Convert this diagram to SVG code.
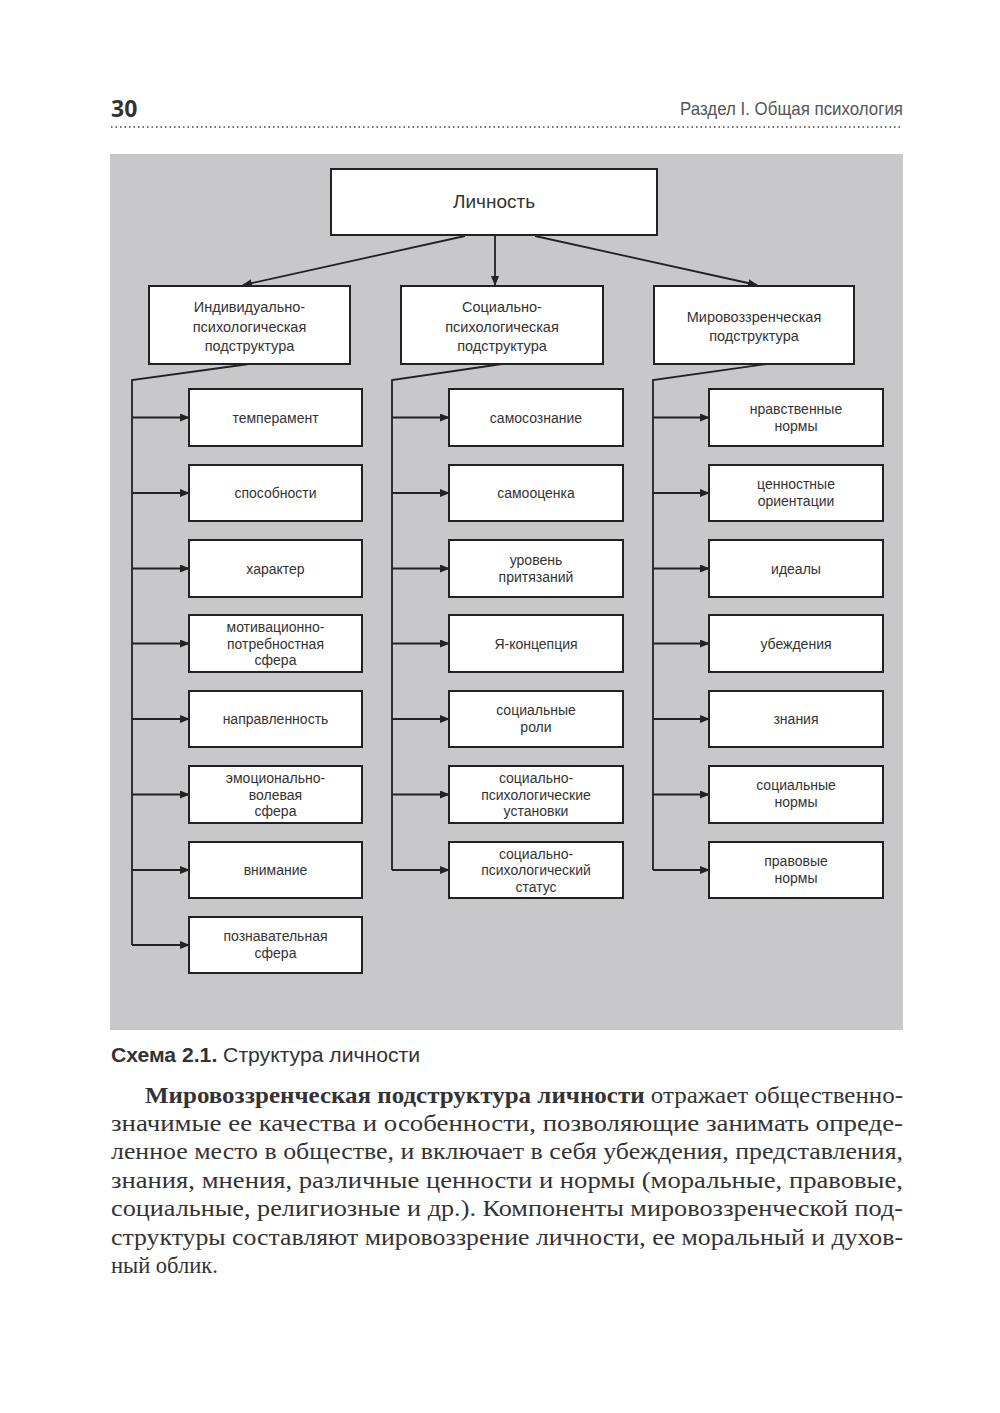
<svg xmlns="http://www.w3.org/2000/svg" width="1000" height="1413" viewBox="0 0 1000 1413">
<style>
.box{fill:#fff;stroke:#222;stroke-width:2}
.ln{fill:none;stroke:#222;stroke-width:1.8}
.t{font-family:"Liberation Sans",Arial,sans-serif;font-size:14px;fill:#333;text-anchor:middle}
.t2{font-family:"Liberation Sans",Arial,sans-serif;font-size:14.5px;fill:#333;text-anchor:middle}
.big{font-family:"Liberation Sans",Arial,sans-serif;font-size:19px;fill:#333;text-anchor:middle}
.p{font-family:"Liberation Serif","Times New Roman",serif;font-size:22.5px;fill:#333}
</style>
<defs>
<marker id="ah" markerWidth="10" markerHeight="8" refX="9" refY="4" orient="auto" markerUnits="userSpaceOnUse">
<path d="M0,0 L10,4 L0,8 Z" fill="#222"/>
</marker>
</defs>
<rect width="1000" height="1413" fill="#fff"/>
<g id="header">
<text x="111" y="117" font-family="'Open Sans','Liberation Sans',sans-serif" font-weight="bold" font-size="23" fill="#333">30</text>
<text x="903" y="115" text-anchor="end" font-family="'Liberation Sans',Arial,sans-serif" font-size="19" fill="#555" textLength="223" lengthAdjust="spacingAndGlyphs">Раздел I. Общая психология</text>
<line x1="111" y1="127" x2="903" y2="127" stroke="#444" stroke-width="1.5" stroke-dasharray="1.5 3"/>
</g>
<rect x="110" y="154" width="793" height="876" fill="#c8c8ca"/>
<g id="connectors">
<line class="ln" x1="465" y1="236" x2="243" y2="285" marker-end="url(#ah)"/>
<line class="ln" x1="495" y1="236" x2="495" y2="285" marker-end="url(#ah)"/>
<line class="ln" x1="535" y1="236" x2="757" y2="285" marker-end="url(#ah)"/>
<polyline class="ln" points="249,364 132,380 132,945"/>
<polyline class="ln" points="502,364 392,380 392,870"/>
<polyline class="ln" points="767,364 653,380 653,870"/>
<g id="arrows-left">
<line class="ln" x1="132" y1="417.5" x2="189" y2="417.5" marker-end="url(#ah)"/>
<line class="ln" x1="132" y1="493" x2="189" y2="493" marker-end="url(#ah)"/>
<line class="ln" x1="132" y1="568.5" x2="189" y2="568.5" marker-end="url(#ah)"/>
<line class="ln" x1="132" y1="643.5" x2="189" y2="643.5" marker-end="url(#ah)"/>
<line class="ln" x1="132" y1="719" x2="189" y2="719" marker-end="url(#ah)"/>
<line class="ln" x1="132" y1="794.5" x2="189" y2="794.5" marker-end="url(#ah)"/>
<line class="ln" x1="132" y1="870" x2="189" y2="870" marker-end="url(#ah)"/>
<line class="ln" x1="132" y1="945" x2="189" y2="945" marker-end="url(#ah)"/>
</g>
<g id="arrows-mid">
<line class="ln" x1="392" y1="417.5" x2="449" y2="417.5" marker-end="url(#ah)"/>
<line class="ln" x1="392" y1="493" x2="449" y2="493" marker-end="url(#ah)"/>
<line class="ln" x1="392" y1="568.5" x2="449" y2="568.5" marker-end="url(#ah)"/>
<line class="ln" x1="392" y1="643.5" x2="449" y2="643.5" marker-end="url(#ah)"/>
<line class="ln" x1="392" y1="719" x2="449" y2="719" marker-end="url(#ah)"/>
<line class="ln" x1="392" y1="794.5" x2="449" y2="794.5" marker-end="url(#ah)"/>
<line class="ln" x1="392" y1="870" x2="449" y2="870" marker-end="url(#ah)"/>
</g>
<g id="arrows-right">
<line class="ln" x1="653" y1="417.5" x2="709" y2="417.5" marker-end="url(#ah)"/>
<line class="ln" x1="653" y1="493" x2="709" y2="493" marker-end="url(#ah)"/>
<line class="ln" x1="653" y1="568.5" x2="709" y2="568.5" marker-end="url(#ah)"/>
<line class="ln" x1="653" y1="643.5" x2="709" y2="643.5" marker-end="url(#ah)"/>
<line class="ln" x1="653" y1="719" x2="709" y2="719" marker-end="url(#ah)"/>
<line class="ln" x1="653" y1="794.5" x2="709" y2="794.5" marker-end="url(#ah)"/>
<line class="ln" x1="653" y1="870" x2="709" y2="870" marker-end="url(#ah)"/>
</g>
</g>
<g id="lichnost"><rect class="box" x="331" y="169" width="326" height="66"/><text class="big" x="494" y="208">Личность</text></g>
<g id="ind"><rect class="box" x="149" y="286" width="201" height="78"/><text class="t2" x="249.5" y="312">Индивидуально-</text><text class="t2" x="249.5" y="332">психологическая</text><text class="t2" x="249.5" y="351">подструктура</text></g>
<g id="soc"><rect class="box" x="401" y="286" width="202" height="78"/><text class="t2" x="502" y="312">Социально-</text><text class="t2" x="502" y="332">психологическая</text><text class="t2" x="502" y="351">подструктура</text></g>
<g id="mir"><rect class="box" x="654" y="286" width="200" height="78"/><text class="t2" x="754" y="322">Мировоззренческая</text><text class="t2" x="754" y="341">подструктура</text></g>

<g id="l1"><rect class="box" x="189" y="389" width="173" height="57"/><text class="t" x="275.5" y="422.5">темперамент</text></g>
<g id="l2"><rect class="box" x="189" y="465" width="173" height="56"/><text class="t" x="275.5" y="498">способности</text></g>
<g id="l3"><rect class="box" x="189" y="540" width="173" height="57"/><text class="t" x="275.5" y="573.5">характер</text></g>
<g id="l4"><rect class="box" x="189" y="615" width="173" height="57"/><text class="t" x="275.5" y="632">мотивационно-</text><text class="t" x="275.5" y="648.5">потребностная</text><text class="t" x="275.5" y="665">сфера</text></g>
<g id="l5"><rect class="box" x="189" y="691" width="173" height="56"/><text class="t" x="275.5" y="724">направленность</text></g>
<g id="l6"><rect class="box" x="189" y="766" width="173" height="57"/><text class="t" x="275.5" y="783">эмоционально-</text><text class="t" x="275.5" y="799.5">волевая</text><text class="t" x="275.5" y="816">сфера</text></g>
<g id="l7"><rect class="box" x="189" y="842" width="173" height="56"/><text class="t" x="275.5" y="875">внимание</text></g>
<g id="l8"><rect class="box" x="189" y="917" width="173" height="56"/><text class="t" x="275.5" y="941">познавательная</text><text class="t" x="275.5" y="958">сфера</text></g>

<g id="m1"><rect class="box" x="449" y="389" width="174" height="57"/><text class="t" x="536" y="422.5">самосознание</text></g>
<g id="m2"><rect class="box" x="449" y="465" width="174" height="56"/><text class="t" x="536" y="498">самооценка</text></g>
<g id="m3"><rect class="box" x="449" y="540" width="174" height="57"/><text class="t" x="536" y="565">уровень</text><text class="t" x="536" y="582">притязаний</text></g>
<g id="m4"><rect class="box" x="449" y="615" width="174" height="57"/><text class="t" x="536" y="648.5">Я-концепция</text></g>
<g id="m5"><rect class="box" x="449" y="691" width="174" height="56"/><text class="t" x="536" y="715">социальные</text><text class="t" x="536" y="732">роли</text></g>
<g id="m6"><rect class="box" x="449" y="766" width="174" height="57"/><text class="t" x="536" y="783">социально-</text><text class="t" x="536" y="799.5">психологические</text><text class="t" x="536" y="816">установки</text></g>
<g id="m7"><rect class="box" x="449" y="842" width="174" height="56"/><text class="t" x="536" y="858.5">социально-</text><text class="t" x="536" y="875">психологический</text><text class="t" x="536" y="891.5">статус</text></g>

<g id="r1"><rect class="box" x="709" y="389" width="174" height="57"/><text class="t" x="796" y="414">нравственные</text><text class="t" x="796" y="431">нормы</text></g>
<g id="r2"><rect class="box" x="709" y="465" width="174" height="56"/><text class="t" x="796" y="489">ценностные</text><text class="t" x="796" y="506">ориентации</text></g>
<g id="r3"><rect class="box" x="709" y="540" width="174" height="57"/><text class="t" x="796" y="573.5">идеалы</text></g>
<g id="r4"><rect class="box" x="709" y="615" width="174" height="57"/><text class="t" x="796" y="648.5">убеждения</text></g>
<g id="r5"><rect class="box" x="709" y="691" width="174" height="56"/><text class="t" x="796" y="724">знания</text></g>
<g id="r6"><rect class="box" x="709" y="766" width="174" height="57"/><text class="t" x="796" y="790">социальные</text><text class="t" x="796" y="807">нормы</text></g>
<g id="r7"><rect class="box" x="709" y="842" width="174" height="56"/><text class="t" x="796" y="866">правовые</text><text class="t" x="796" y="883">нормы</text></g>

<g id="caption">
<text x="111" y="1062" font-family="'Liberation Sans',Arial,sans-serif" font-size="20" fill="#333" textLength="309" lengthAdjust="spacingAndGlyphs"><tspan font-weight="bold">Схема 2.1.</tspan> Структура личности</text>
</g>
<g id="paragraph">
<text class="p" x="145" y="1103" textLength="758" lengthAdjust="spacingAndGlyphs"><tspan font-weight="bold">Мировоззренческая подструктура личности</tspan> отражает общественно-</text>
<text class="p" x="111" y="1131" textLength="792" lengthAdjust="spacingAndGlyphs">значимые ее качества и особенности, позволяющие занимать опреде-</text>
<text class="p" x="111" y="1159" textLength="792" lengthAdjust="spacingAndGlyphs">ленное место в обществе, и включает в себя убеждения, представления,</text>
<text class="p" x="111" y="1188" textLength="792" lengthAdjust="spacingAndGlyphs">знания, мнения, различные ценности и нормы (моральные, правовые,</text>
<text class="p" x="111" y="1216" textLength="792" lengthAdjust="spacingAndGlyphs">социальные, религиозные и др.). Компоненты мировоззренческой под-</text>
<text class="p" x="111" y="1245" textLength="792" lengthAdjust="spacingAndGlyphs">структуры составляют мировоззрение личности, ее моральный и духов-</text>
<text class="p" x="111" y="1273">ный облик.</text>
</g>
</svg>
